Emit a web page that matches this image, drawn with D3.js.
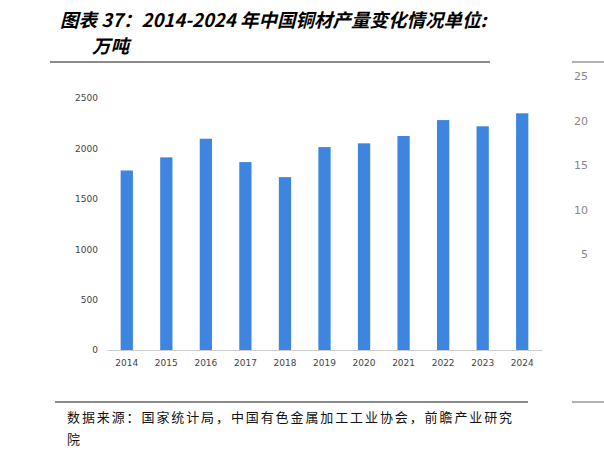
<!DOCTYPE html>
<html>
<head>
<meta charset="utf-8">
<script src="https://cdn.jsdelivr.net/npm/d3@7"></script>
<style>
  body { margin: 0; background: #fff; }
  svg { display: block; }
</style>
</head>
<body>
<svg id="chart" width="604" height="460"></svg>
<script>
const years = ['2014', '2015', '2016', '2017', '2018', '2019', '2020', '2021', '2022', '2023', '2024'];
const output = [1781, 1911, 2096, 1864, 1715, 2013, 2050, 2123, 2281, 2219, 2348];
const yTicks = [0, 500, 1000, 1500, 2000, 2500];
const sideTicks = ['25', '20', '15', '10', '5'];

const svg = d3.select('#chart');
const cjk = '"Noto Sans CJK SC", sans-serif';

// title
svg.append('text').attr('x', 60).attr('y', 27)
  .attr('font-family', cjk).attr('font-size', 18.5).attr('font-weight', 'bold')
  .attr('font-style', 'italic').attr('fill', '#000')
  .text('图表 37：2014-2024 年中国铜材产量变化情况单位:');
svg.append('text').attr('x', 92).attr('y', 53)
  .attr('font-family', cjk).attr('font-size', 18.5).attr('font-weight', 'bold')
  .attr('font-style', 'italic').attr('fill', '#000')
  .text('万吨');

// rules
svg.append('line').attr('x1', 50).attr('x2', 490).attr('y1', 62).attr('y2', 62)
  .attr('stroke', '#666').attr('stroke-width', 1.5);
svg.append('line').attr('x1', 55).attr('x2', 528).attr('y1', 402).attr('y2', 402)
  .attr('stroke', '#666').attr('stroke-width', 1.5);
svg.append('line').attr('x1', 572).attr('x2', 604).attr('y1', 62).attr('y2', 62)
  .attr('stroke', '#999').attr('stroke-width', 1.5);
svg.append('line').attr('x1', 572).attr('x2', 604).attr('y1', 402).attr('y2', 402)
  .attr('stroke', '#999').attr('stroke-width', 1.5);

// cut-off neighbour axis
const side = d3.scalePoint().domain(sideTicks).range([80, 258]);
svg.selectAll('.side').data(sideTicks).join('text')
  .attr('x', 588).attr('y', d => side(d)).attr('text-anchor', 'end')
  .attr('font-family', 'DejaVu Sans, sans-serif').attr('font-size', 11).attr('fill', '#888')
  .text(d => d);

// plot
const x = d3.scaleBand().domain(years).range([107, 542]).paddingInner(0.69).paddingOuter(0.345);
const y = d3.scaleLinear().domain([0, 2500]).range([350, 98]);

svg.append('g').attr('transform', 'translate(98,0)')
  .call(d3.axisLeft(y).tickValues(yTicks).tickFormat(d3.format('d')).tickSize(0).tickPadding(0))
  .call(g => g.select('.domain').remove())
  .call(g => g.selectAll('text').attr('font-family', '"DejaVu Sans", sans-serif')
    .attr('font-size', 9).attr('fill', '#444'));

svg.selectAll('.bar').data(years).join('rect')
  .attr('x', d => x(d)).attr('width', x.bandwidth())
  .attr('y', (d, i) => y(output[i])).attr('height', (d, i) => y(0) - y(output[i]))
  .attr('fill', '#3d85de');

svg.append('g').attr('transform', 'translate(0,350)')
  .call(d3.axisBottom(x).tickSize(0).tickPadding(10))
  .call(g => g.select('.domain').attr('stroke', '#ccc'))
  .call(g => g.selectAll('text').attr('font-family', '"DejaVu Sans", sans-serif')
    .attr('font-size', 9).attr('fill', '#444'));

// source
svg.append('text').attr('x', 67).attr('y', 422)
  .attr('font-family', cjk).attr('font-size', 13).attr('letter-spacing', 1.9).attr('fill', '#111')
  .text('数据来源：国家统计局，中国有色金属加工工业协会，前瞻产业研究');
svg.append('text').attr('x', 67).attr('y', 444)
  .attr('font-family', cjk).attr('font-size', 13).attr('fill', '#111')
  .text('院');
</script>
</body>
</html>
